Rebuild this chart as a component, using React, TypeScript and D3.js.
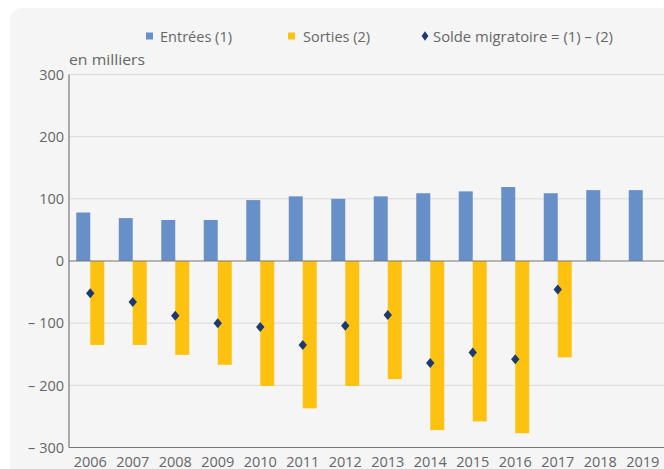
import React from "react";
import * as d3 from "d3";

const years = ["2006","2007","2008","2009","2010","2011","2012","2013","2014","2015","2016","2017","2018","2019"];
const entrees = [78, 69, 66, 66, 98, 104, 100, 104, 109, 112, 119, 109, 114, 114];
const sorties = [135, 135, 151, 167, 201, 237, 201, 190, 272, 258, 277, 155, null, null];
const solde = [-52, -66, -88, -100, -106, -135, -104, -87, -164, -147, -158, -46, null, null];
const yTicks = [300, 200, 100, 0, -100, -200, -300];
const legendLabels = ["Entrées (1)", "Sorties (2)", "Solde migratoire = (1) – (2)"];

const W = 664, H = 469;
const left = 69, right = 664, top = 74.5, bottom = 447.5;
const BLUE = "#6790c8", YELLOW = "#fdc20f", NAVY = "#1d3a6e";
const FONT = "'Open Sans', sans-serif";
const TXT = "#666";

export default function App() {
  const x = d3.scaleBand<string>().domain(years).range([left, right]).paddingInner(0).paddingOuter(0);
  const y = d3.scaleLinear().domain([-300, 300]).range([bottom, top]);
  const bw = 14;
  const fmt = (v: number) => (v < 0 ? "– " + Math.abs(v) : String(v));
  const diamond = "M0,-5L4.2,0L0,5L-4.2,0Z";
  const legDiamond = "M0,-4.8L3.4,0L0,4.8L-3.4,0Z";

  return (
    <svg width={W} height={H} style={{ position: "absolute", left: 0, top: 0 }}>
      <rect x={0} y={0} width={W} height={H} fill="#fff" />
      <rect x={10} y={8} width={W + 20} height={H + 20} rx={12} fill="#f5f5f5" />
      {/* grid */}
      {yTicks.filter(t => t !== 0 && t !== -300).map(t => (
        <line key={t} x1={left} x2={right} y1={y(t)} y2={y(t)} stroke="#d9d9d9" strokeWidth={1} />
      ))}
      {/* bars */}
      {years.map((yr, i) => {
        const cx = x(yr)! + x.bandwidth() / 2;
        return (
          <g key={yr}>
            <rect x={cx - bw} y={y(entrees[i])} width={bw} height={y(0) - y(entrees[i])} fill={BLUE} />
            {sorties[i] != null && (
              <rect x={cx} y={y(0)} width={bw} height={y(-sorties[i]!) - y(0)} fill={YELLOW} />
            )}
          </g>
        );
      })}
      {/* zero line & axes */}
      <line x1={left} x2={right} y1={y(0)} y2={y(0)} stroke="#777" strokeWidth={1.2} />
      <line x1={left} x2={right} y1={y(-300)} y2={y(-300)} stroke="#777" strokeWidth={1.2} />
      <line x1={left} x2={left} y1={y(300)} y2={y(-300)} stroke="#777" strokeWidth={1.2} />
      {/* diamonds */}
      {years.map((yr, i) =>
        solde[i] != null ? (
          <path key={yr} d={diamond} transform={`translate(${x(yr)! + x.bandwidth() / 2},${y(solde[i]!)})`} fill={NAVY} />
        ) : null
      )}
      {/* y tick labels */}
      {yTicks.map(t => (
        <text key={t} x={64} y={y(t)} dy="0.36em" textAnchor="end" fontFamily={FONT} fontSize={14.5} fill={TXT}>
          {fmt(t)}
        </text>
      ))}
      {/* x labels */}
      {years.map(yr => (
        <text key={yr} x={x(yr)! + x.bandwidth() / 2} y={466.5} textAnchor="middle" fontFamily={FONT} fontSize={14.5} fill={TXT}>
          {yr}
        </text>
      ))}
      <text x={69} y={65} fontFamily={FONT} fontSize={14.5} fill={TXT} textLength={76} lengthAdjust="spacingAndGlyphs">en milliers</text>
      {/* legend */}
      <rect x={146} y={32.5} width={7} height={7} fill={BLUE} />
      <text x={160} y={41.5} fontFamily={FONT} fontSize={14} fill={TXT} textLength={72} lengthAdjust="spacingAndGlyphs">{legendLabels[0]}</text>
      <rect x={288} y={32.5} width={7} height={7} fill={YELLOW} />
      <text x={303} y={41.5} fontFamily={FONT} fontSize={14} fill={TXT} textLength={67} lengthAdjust="spacingAndGlyphs">{legendLabels[1]}</text>
      <path d={legDiamond} transform="translate(425,36)" fill={NAVY} />
      <text x={433} y={41.5} fontFamily={FONT} fontSize={14} fill={TXT} textLength={180} lengthAdjust="spacingAndGlyphs">{legendLabels[2]}</text>
    </svg>
  );
}
